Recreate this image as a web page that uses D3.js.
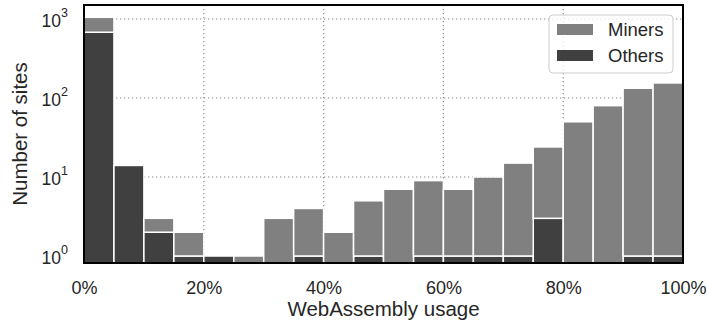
<!DOCTYPE html>
<html>
<head>
<meta charset="utf-8">
<script src="https://cdn.jsdelivr.net/npm/d3@7"></script>
<style>
  body { margin: 0; background: #fff; }
  text { font-family: "Liberation Sans", Arial, Helvetica, sans-serif; fill: #262626; }
</style>
</head>
<body>
<svg id="chart" width="707" height="324"></svg>
<script>
// Histogram of WebAssembly usage per site, 5% bins, stacked on a log axis
const binStarts = [0, 5, 10, 15, 20, 25, 30, 35, 40, 45, 50, 55, 60, 65, 70, 75, 80, 85, 90, 95];
const binWidth = 5;
const othersCounts = [680, 14, 2, 1, 1, 0, 0, 1, 0, 1, 0, 1, 1, 1, 1, 3, 0, 0, 1, 1];
const minersCounts = [370, 0, 1, 1, 0, 1, 3, 3, 2, 4, 7, 8, 6, 9, 14, 21, 50, 80, 132, 154];
const seriesNames = ["Miners", "Others"];
const seriesColors = { Miners: "#808080", Others: "#404040" };
const xTickValues = [0, 20, 40, 60, 80, 100];
const xGridValues = [20, 40, 60, 80];
const yTickExponents = [0, 1, 2, 3];
const yGridValues = [10, 100, 1000];

const plot = { left: 84, right: 683, top: 5, bottom: 263 };
const yMin = 0.8156, yMax = 1504;

const svg = d3.select("#chart");
const x = d3.scaleLinear().domain([0, 100]).range([plot.left, plot.right]);
const y = d3.scaleLog().domain([yMin, yMax]).range([plot.bottom, plot.top]);

svg.append("defs").append("clipPath").attr("id", "plotClip")
  .append("rect")
  .attr("x", plot.left).attr("y", plot.top)
  .attr("width", plot.right - plot.left).attr("height", plot.bottom - plot.top);

// dotted grid
const grid = svg.append("g").attr("stroke", "#8c8c8c").attr("stroke-width", 1.2)
  .attr("stroke-dasharray", "1.3,2.7");
grid.selectAll("line.vx").data(xGridValues).join("line")
  .attr("x1", d => x(d)).attr("x2", d => x(d))
  .attr("y1", plot.top).attr("y2", plot.bottom);
grid.selectAll("line.hy").data(yGridValues).join("line")
  .attr("x1", plot.left).attr("x2", plot.right)
  .attr("y1", d => y(d)).attr("y2", d => y(d));

// stacked bars: Others at the bottom, Miners on top
const rows = binStarts.map((s, i) => ({
  x0: s, x1: s + binWidth, others: othersCounts[i], miners: minersCounts[i]
}));
const bars = svg.append("g").attr("clip-path", "url(#plotClip)")
  .attr("stroke", "#fff").attr("stroke-width", 1.5);

bars.selectAll("rect.others").data(rows.filter(d => d.others > 0)).join("rect")
  .attr("fill", seriesColors.Others)
  .attr("x", d => x(d.x0)).attr("width", d => x(d.x1) - x(d.x0))
  .attr("y", d => y(d.others))
  .attr("height", d => y(yMin) + 2 - y(d.others));

bars.selectAll("rect.miners").data(rows.filter(d => d.miners > 0)).join("rect")
  .attr("fill", seriesColors.Miners)
  .attr("x", d => x(d.x0)).attr("width", d => x(d.x1) - x(d.x0))
  .attr("y", d => y(d.others + d.miners))
  .attr("height", d => (d.others > 0 ? y(d.others) : y(yMin) + 2) - y(d.others + d.miners));

// frame
svg.append("rect")
  .attr("x", plot.left).attr("y", plot.top)
  .attr("width", plot.right - plot.left).attr("height", plot.bottom - plot.top)
  .attr("fill", "none").attr("stroke", "#000").attr("stroke-width", 2);

// x tick labels
const xAxis = d3.axisBottom(x).tickValues(xTickValues).tickSize(0).tickPadding(0)
  .tickFormat(d => d + "%");
const gx = svg.append("g").attr("transform", `translate(0,${plot.bottom})`).call(xAxis);
gx.select(".domain").remove();
gx.selectAll("text").attr("dy", null).attr("y", 31).style("font-size", "18px")
  .attr("fill", "#262626");

// y tick labels as powers of ten
const yLabels = svg.append("g");
yTickExponents.forEach(e => {
  const t = yLabels.append("text")
    .attr("x", 68).attr("y", y(Math.pow(10, e)) + 8)
    .attr("text-anchor", "end").style("font-size", "17.5px");
  t.append("tspan").text("10");
  t.append("tspan").attr("dy", -10).style("font-size", "12.5px").text(String(e));
});

// axis titles
svg.append("text")
  .attr("x", (plot.left + plot.right) / 2).attr("y", 316)
  .attr("text-anchor", "middle").style("font-size", "20.5px")
  .text("WebAssembly usage");
svg.append("text")
  .attr("transform", `translate(27,${(plot.top + plot.bottom) / 2}) rotate(-90)`)
  .attr("text-anchor", "middle").style("font-size", "20.5px")
  .text("Number of sites");

// legend
const legend = svg.append("g");
legend.append("rect")
  .attr("x", 549).attr("y", 15).attr("width", 124).attr("height", 58).attr("rx", 4)
  .attr("fill", "#fff").attr("fill-opacity", 0.8)
  .attr("stroke", "#cccccc").attr("stroke-width", 1);
seriesNames.forEach((name, i) => {
  const ly = 24 + i * 26;
  legend.append("rect")
    .attr("x", 557).attr("y", ly).attr("width", 36).attr("height", 11)
    .attr("fill", seriesColors[name]);
  legend.append("text")
    .attr("x", 608).attr("y", ly + 11.5).style("font-size", "18.5px")
    .text(name);
});
</script>
</body>
</html>
